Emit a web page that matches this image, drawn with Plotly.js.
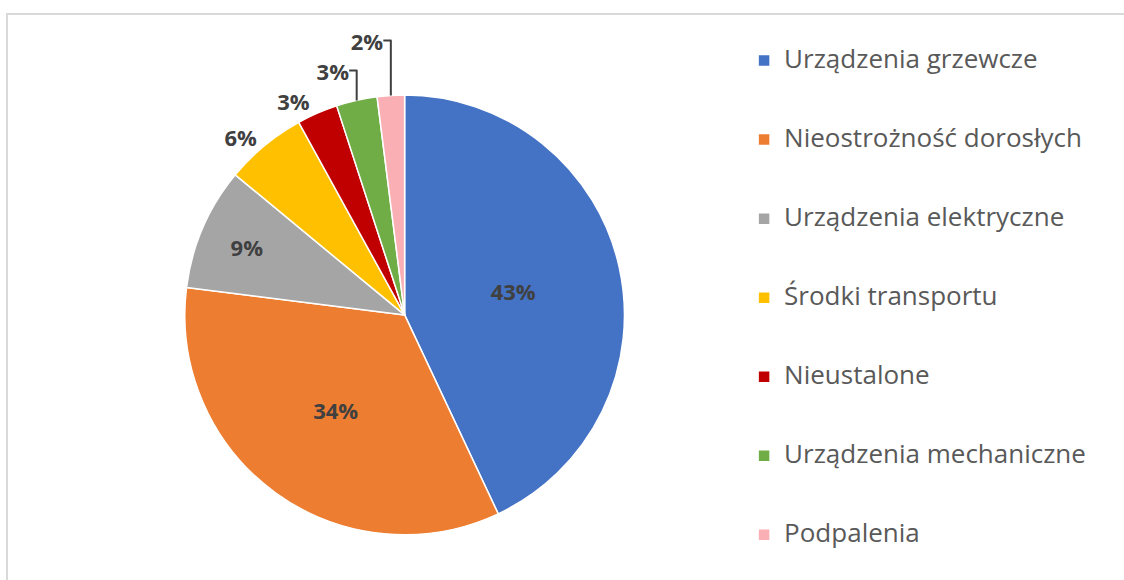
<!DOCTYPE html>
<html>
<head>
<meta charset="utf-8">
<script src="https://cdn.plot.ly/plotly-3.0.1.min.js"></script>
<style>html,body{margin:0;padding:0;background:#fff;}#chart{width:1124px;height:580px;}</style>
</head>
<body>
<div id="chart"></div>
<script>
const categories = [
  "Urządzenia grzewcze",
  "Nieostrożność dorosłych",
  "Urządzenia elektryczne",
  "Środki transportu",
  "Nieustalone",
  "Urządzenia mechaniczne",
  "Podpalenia"
];
const shares = [43, 34, 9, 6, 3, 3, 2];
const sliceColors = ["#4472C4", "#ED7D31", "#A5A5A5", "#FFC000", "#C00000", "#70AD47", "#F9AFB4"];
const labelPlacement = ["inside", "inside", "inside", "outside", "outside", "outside", "outside"];

// blank lines around each name give the legend the same airy spacing as the original
const legendLabels = categories.map(c => " <br><span style=\"font-size:26px\">" + c + "</span><br> ");

const pctFont = { family: "Open Sans, Liberation Sans, sans-serif", size: 22, color: "#404040", weight: "bold" };

const trace = {
  type: "pie",
  labels: legendLabels,
  values: shares,
  sort: false,
  direction: "clockwise",
  rotation: 0,
  marker: { colors: sliceColors, line: { color: "#FFFFFF", width: 1.5 } },
  texttemplate: "%{percent:.0%}",
  textposition: labelPlacement,
  insidetextorientation: "horizontal",
  textfont: pctFont,
  insidetextfont: pctFont,
  outsidetextfont: pctFont,
  hovertemplate: "%{label}: %{percent}<extra></extra>",
  domain: { x: [0.164, 0.556], y: [0.078, 0.836] }
};

const layout = {
  width: 1124,
  height: 580,
  margin: { l: 0, r: 0, t: 0, b: 0 },
  paper_bgcolor: "#FFFFFF",
  showlegend: true,
  legend: {
    x: 0.662, xanchor: "left",
    y: 0.474, yanchor: "middle",
    font: { family: "Open Sans, Liberation Sans, sans-serif", size: 19.5, color: "#595959" },
    valign: "middle",
    bgcolor: "rgba(0,0,0,0)"
  },
  shapes: [{
    type: "rect", xref: "paper", yref: "paper",
    x0: 7 / 1124, x1: 1.02, y0: -0.02, y1: 1 - 14 / 580,
    line: { color: "#D9D9D9", width: 2 }, fillcolor: "rgba(0,0,0,0)"
  }]
};

Plotly.newPlot("chart", [trace], layout, { displayModeBar: false, staticPlot: true });
</script>
</body>
</html>
